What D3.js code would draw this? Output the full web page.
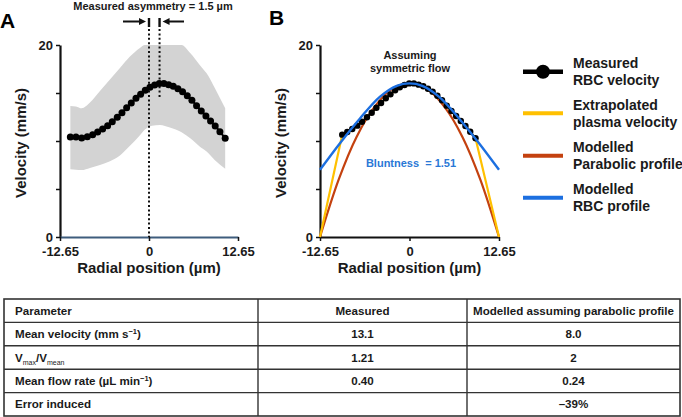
<!DOCTYPE html>
<html>
<head>
<meta charset="utf-8">
<script src="https://cdn.jsdelivr.net/npm/d3@7/dist/d3.min.js"></script>
<style>
  html, body { margin: 0; padding: 0; background: #fff; }
  svg { display: block; font-family: Arial, "Liberation Sans", sans-serif; }
</style>
</head>
<body>
<div id="chart"></div>
<script>
// ---- data ----
const xTicks = [-12.65, 0, 12.65];
const yTicks = [0, 5, 10, 15, 20];

// panel A: measured RBC velocity (radial position µm, velocity mm/s)
const rbcX = [-11.18, -10.38, -9.57, -8.77, -8.01, -7.30, -6.59, -5.88, -5.22, -4.51, -3.84,
  -3.18, -2.52, -1.85, -1.19, -0.53, 0.13, 0.80, 1.46, 2.12, 2.79, 3.45, 4.11, 4.77, 5.44,
  6.10, 6.76, 7.43, 8.09, 8.75, 9.41, 10.08, 10.83];
const rbcV = [10.42, 10.42, 10.31, 10.45, 10.66, 10.94, 11.25, 11.60, 12.00, 12.47, 12.95,
  13.47, 13.96, 14.45, 14.86, 15.28, 15.59, 15.83, 16.00, 16.00, 15.87, 15.70, 15.45, 15.14,
  14.72, 14.24, 13.68, 13.13, 12.60, 12.08, 11.56, 10.97, 10.28];

// panel A: spread band
const bandX  = [-11.18, -10.38, -9.57, -8.39, -6.97, -5.55, -4.13, -2.71, -1.29, -0.58, 0.42,
  1.55, 2.97, 4.63, 5.82, 7.24, 8.19, 9.37, 10.83];
const bandLo = [7.05, 7.0, 6.98, 7.2, 7.5, 7.9, 8.5, 9.5, 10.6, 11.2, 11.6,
  11.67, 11.4, 10.9, 10.3, 9.4, 8.9, 8.0, 7.1];
const bandHi = [13.65, 13.6, 13.4, 14.0, 15.2, 16.4, 17.6, 18.8, 19.7, 20.0, 20.0,
  20.0, 20.0, 20.0, 19.2, 17.9, 17.05, 15.5, 13.4];
const asymmetry = 1.5;

// panel B: symmetrised measured RBC velocity
const symX = [-9.51, -8.80, -8.09, -7.38, -6.72, -6.01, -5.34, -4.68, -4.02, -3.35, -2.69,
  -2.03, -1.37, -0.70, -0.04, 0.62, 1.29, 1.95, 2.61, 3.27, 3.94, 4.60, 5.26, 5.93, 6.59,
  7.25, 7.91, 8.58, 9.33];
const symV = [10.66, 10.94, 11.25, 11.60, 12.00, 12.47, 12.95, 13.47, 13.96, 14.45, 14.86,
  15.28, 15.59, 15.83, 16.00, 16.00, 15.87, 15.70, 15.45, 15.14, 14.72, 14.24, 13.68, 13.13,
  12.60, 12.08, 11.56, 10.97, 10.28];

// panel B: modelled profiles
const paraX = [-12.65, -10, -7.5, -5, -2.5, 0, 2.5, 5, 7.5, 10, 12.65];
const paraV = [0, 6.0, 10.4, 13.5, 15.4, 16.0, 15.4, 13.5, 10.4, 6.0, 0];
const bluntX = [-12.65, -9.8, -7.0, -4.2, -1.8, 0, 1.8, 4.2, 7.0, 9.8, 12.65];
const bluntV = [7.0, 9.8, 12.35, 14.6, 15.75, 16.0, 15.75, 14.6, 12.35, 9.8, 7.0];
const wallX = [-12.65, 12.65];
const wallV = [0, 0];

const legendItems = [
  ['Measured', 'RBC velocity'],
  ['Extrapolated', 'plasma velocity'],
  ['Modelled', 'Parabolic profile'],
  ['Modelled', 'RBC profile']
];

// table
const tableHeader = ['Parameter', 'Measured', 'Modelled assuming parabolic profile'];
const tableParams = ['Mean velocity', 'Vmax/Vmean', 'Mean flow rate', 'Error induced'];
const tableMeasured = ['13.1', '1.21', '0.40', ''];
const tableModelled = ['8.0', '2', '0.24', '\u201339%'];

// ---- layout ----
const W = 682, H = 417;
const C = { yellow: '#ffc000', red: '#c4410f', blue: '#1c6fe0', band: '#d3d3d3', text: '#1a1a1a' };

const svg = d3.select('#chart').append('svg')
  .attr('width', W).attr('height', H);

const y = d3.scaleLinear().domain([0, 20]).range([237, 45]);
const xA = d3.scaleLinear().domain([-12.65, 12.65]).range([60, 238]);
const xB = d3.scaleLinear().domain([-12.65, 12.65]).range([320, 499]);

function drawAxes(x, xAxisColor) {
  const gy = svg.append('g')
    .attr('transform', `translate(${x.range()[0]},0)`)
    .call(d3.axisLeft(y).tickValues(yTicks).tickSize(4).tickSizeOuter(0).tickPadding(3)
      .tickFormat(d => (d === 0 || d === 20) ? d : ''));
  gy.select('.domain').attr('stroke', '#111').attr('stroke-width', 2.2);
  gy.selectAll('.tick line').attr('stroke', '#111').attr('stroke-width', 1.5);
  gy.selectAll('text').attr('font-size', 13).attr('font-weight', 'bold').attr('fill', C.text);

  const gx = svg.append('g')
    .attr('transform', `translate(0,${y(0)})`)
    .call(d3.axisBottom(x).tickValues(xTicks).tickSize(4).tickSizeOuter(0).tickPadding(6)
      .tickFormat(d => d));
  gx.select('.domain').attr('stroke', xAxisColor).attr('stroke-width', 2.2);
  gx.selectAll('.tick line').attr('stroke', '#111').attr('stroke-width', 1.5);
  gx.selectAll('text').attr('font-size', 13).attr('font-weight', 'bold').attr('fill', C.text);

  const cx = (x.range()[0] + x.range()[1]) / 2;
  svg.append('text')
    .attr('x', cx).attr('y', 273)
    .attr('text-anchor', 'middle')
    .attr('font-size', 15).attr('font-weight', 'bold').attr('fill', C.text)
    .text('Radial position (\u00b5m)');
  svg.append('text')
    .attr('transform', `translate(${x.range()[0] - 34},${(y(0) + y(20)) / 2 + 2}) rotate(-90)`)
    .attr('text-anchor', 'middle')
    .attr('font-size', 15).attr('font-weight', 'bold').attr('fill', C.text)
    .text('Velocity (mm/s)');
}

// ---- panel A ----
const bandPts = bandX.map((d, i) => [d, bandLo[i], bandHi[i]]);
svg.append('path')
  .datum(bandPts)
  .attr('fill', C.band)
  .attr('d', d3.area().x(d => xA(d[0])).y0(d => y(d[1])).y1(d => y(d[2])).curve(d3.curveMonotoneX));

const rbcPts = rbcX.map((d, i) => [d, rbcV[i]]);

drawAxes(xA, '#3f5d7d');

// dotted guide lines
svg.append('line')
  .attr('x1', xA(0)).attr('x2', xA(0)).attr('y1', 29).attr('y2', y(0))
  .attr('stroke', '#111').attr('stroke-width', 2).attr('stroke-dasharray', '2,2.4');
svg.append('line')
  .attr('x1', xA(asymmetry)).attr('x2', xA(asymmetry)).attr('y1', 29).attr('y2', 97)
  .attr('stroke', '#111').attr('stroke-width', 2).attr('stroke-dasharray', '2,2.4');
[0, asymmetry].forEach(v => {
  svg.append('line')
    .attr('x1', xA(v)).attr('x2', xA(v)).attr('y1', 18).attr('y2', 27)
    .attr('stroke', '#111').attr('stroke-width', 2.4);
});

// arrows
function arrow(xFrom, xTo, yy) {
  const dir = Math.sign(xTo - xFrom);
  svg.append('line')
    .attr('x1', xFrom).attr('x2', xTo - dir * 5).attr('y1', yy).attr('y2', yy)
    .attr('stroke', '#111').attr('stroke-width', 2);
  svg.append('path')
    .attr('d', `M${xTo},${yy} L${xTo - dir * 7},${yy - 3.5} L${xTo - dir * 7},${yy + 3.5} Z`)
    .attr('fill', '#111');
}
arrow(123, xA(0) - 3, 21.5);
arrow(184, xA(asymmetry) + 3, 21.5);

svg.append('text')
  .attr('x', 153).attr('y', 10)
  .attr('text-anchor', 'middle')
  .attr('font-size', 11).attr('font-weight', 'bold').attr('fill', C.text)
  .text('Measured asymmetry = 1.5 \u00b5m');

svg.append('path')
  .datum(rbcPts)
  .attr('fill', 'none').attr('stroke', '#000').attr('stroke-width', 2)
  .attr('d', d3.line().x(d => xA(d[0])).y(d => y(d[1])));
svg.append('g').selectAll('circle')
  .data(rbcPts).join('circle')
  .attr('cx', d => xA(d[0])).attr('cy', d => y(d[1])).attr('r', 3.5)
  .attr('fill', '#000');

svg.append('text')
  .attr('x', 0).attr('y', 28)
  .attr('font-size', 21).attr('font-weight', 'bold').attr('fill', '#000')
  .text('A');

// ---- panel B ----
drawAxes(xB, '#111');

const lineB = d3.line().x(d => xB(d[0])).y(d => y(d[1]));
const paraPts = paraX.map((d, i) => [d, paraV[i]]);
const bluntPts = bluntX.map((d, i) => [d, bluntV[i]]);
const symPts = symX.map((d, i) => [d, symV[i]]);
const plasmaPts = [[wallX[0], wallV[0]], ...symPts, [wallX[1], wallV[1]]];

svg.append('path').datum(paraPts)
  .attr('fill', 'none').attr('stroke', C.red).attr('stroke-width', 2.2)
  .attr('d', lineB.curve(d3.curveCatmullRom));
svg.append('path').datum(plasmaPts)
  .attr('fill', 'none').attr('stroke', C.yellow).attr('stroke-width', 2.2)
  .attr('d', d3.line().x(d => xB(d[0])).y(d => y(d[1]))(plasmaPts));
svg.append('path').datum(symPts)
  .attr('fill', 'none').attr('stroke', '#000').attr('stroke-width', 2)
  .attr('d', d3.line().x(d => xB(d[0])).y(d => y(d[1]))(symPts));
svg.append('g').selectAll('circle')
  .data(symPts).join('circle')
  .attr('cx', d => xB(d[0])).attr('cy', d => y(d[1])).attr('r', 3.2)
  .attr('fill', '#000');
svg.append('path').datum(bluntPts)
  .attr('fill', 'none').attr('stroke', C.blue).attr('stroke-width', 2.4)
  .attr('d', d3.line().x(d => xB(d[0])).y(d => y(d[1])).curve(d3.curveCatmullRom)(bluntPts));

svg.append('text')
  .attr('x', 410).attr('y', 59)
  .attr('text-anchor', 'middle')
  .attr('font-size', 11).attr('font-weight', 'bold').attr('fill', C.text)
  .selectAll('tspan').data(['Assuming', 'symmetric flow']).join('tspan')
  .attr('x', 410).attr('dy', (d, i) => i ? 13.3 : 0)
  .text(d => d);

svg.append('text')
  .attr('x', 411).attr('y', 167)
  .attr('text-anchor', 'middle')
  .attr('font-size', 11).attr('font-weight', 'bold').attr('fill', '#2a78d6')
  .attr('xml:space', 'preserve')
  .text('Bluntness  = 1.51');

svg.append('text')
  .attr('x', 269).attr('y', 25)
  .attr('font-size', 21).attr('font-weight', 'bold').attr('fill', '#000')
  .text('B');

// legend
const legendColors = ['#000', C.yellow, C.red, C.blue];
const legendY = [71.7, 113.3, 155.7, 197.7];
legendItems.forEach((lines, i) => {
  const g = svg.append('g').attr('transform', `translate(0,${legendY[i]})`);
  g.append('line')
    .attr('x1', 523).attr('x2', 563).attr('y1', 0).attr('y2', 0)
    .attr('stroke', legendColors[i]).attr('stroke-width', i === 0 ? 4.5 : 4);
  if (i === 0) g.append('circle').attr('cx', 543).attr('cy', 0).attr('r', 7).attr('fill', '#000');
  g.append('text')
    .attr('font-size', 14).attr('font-weight', 'bold').attr('fill', C.text)
    .selectAll('tspan').data(lines).join('tspan')
    .attr('x', 573).attr('y', (d, j) => j ? 13.5 : -3.5)
    .text(d => d);
});

// ---- table ----
const colX = [4, 258, 467, 680];
const rowTop = 299, rowH = 23.4;
const nRows = 1 + tableParams.length;
const tg = svg.append('g');

tg.append('rect')
  .attr('x', colX[0]).attr('y', rowTop)
  .attr('width', colX[3] - colX[0]).attr('height', rowH * nRows)
  .attr('fill', 'none').attr('stroke', '#333').attr('stroke-width', 1.6);
d3.range(1, nRows).forEach(r => {
  tg.append('line')
    .attr('x1', colX[0]).attr('x2', colX[3])
    .attr('y1', rowTop + r * rowH).attr('y2', rowTop + r * rowH)
    .attr('stroke', '#333').attr('stroke-width', 1.4);
});
[colX[1], colX[2]].forEach(cx => {
  tg.append('line')
    .attr('x1', cx).attr('x2', cx).attr('y1', rowTop).attr('y2', rowTop + rowH * nRows)
    .attr('stroke', '#333').attr('stroke-width', 1.4);
});

function cell(txt, col, row) {
  const t = tg.append('text')
    .attr('x', col === 0 ? 15 : (colX[col] + colX[col + 1]) / 2)
    .attr('y', rowTop + row * rowH + rowH / 2 + 4)
    .attr('text-anchor', col === 0 ? 'start' : 'middle')
    .attr('font-size', 11.6).attr('font-weight', 'bold').attr('fill', C.text);
  return t.text(txt);
}
tableHeader.forEach((h, c) => cell(h, c, 0));

// parameter names with super/subscripts
const p1 = cell('', 0, 1);
p1.append('tspan').text('Mean velocity (mm s');
p1.append('tspan').attr('font-size', 7.5).attr('dy', -4).text('\u22121');
p1.append('tspan').attr('dy', 4).text(')');

const p2 = cell('', 0, 2);
p2.append('tspan').text('V');
p2.append('tspan').attr('font-size', 7).attr('font-weight', 'normal').attr('dy', 3).text('max');
p2.append('tspan').attr('dy', -3).text('/V');
p2.append('tspan').attr('font-size', 7).attr('font-weight', 'normal').attr('dy', 3).text('mean');

const p3 = cell('', 0, 3);
p3.append('tspan').text('Mean flow rate (\u00b5L min');
p3.append('tspan').attr('font-size', 7.5).attr('dy', -4).text('\u22121');
p3.append('tspan').attr('dy', 4).text(')');

cell(tableParams[3], 0, 4);

tableMeasured.forEach((v, i) => cell(v, 1, i + 1));
tableModelled.forEach((v, i) => cell(v, 2, i + 1));
</script>
</body>
</html>
